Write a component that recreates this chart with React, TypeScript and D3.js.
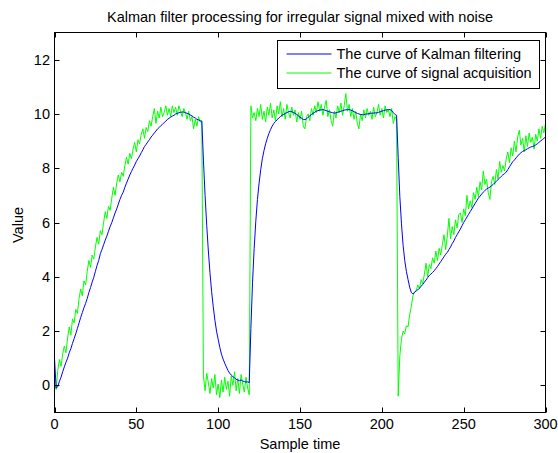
import React from "react";
import * as d3 from "d3";

// Sample index runs 0..300
const signal: number[] = [
  0.05, -0.15, 0.55, 0.95, 0.7, 1.15, 1.45, 1.2, 1.75, 2.15,
  1.85, 2.45, 2.3, 2.8, 2.65, 3.2, 3.55, 3.3, 3.85, 3.7,
  4.2, 4.6, 4.35, 4.8, 4.65, 5.1, 5.45, 5.2, 5.7, 5.55,
  6.0, 6.4, 6.15, 6.6, 6.45, 6.9, 7.3, 7.0, 7.45, 7.75,
  7.5, 7.85, 7.7, 8.1, 8.4, 8.15, 8.55, 8.35, 8.7, 8.95,
  8.6, 9.05, 8.9, 9.25, 9.45, 9.1, 9.5, 9.35, 9.75, 9.55,
  9.9, 10.2, 9.65, 10.1, 9.85, 10.25, 9.9, 10.05, 10.3, 9.95,
  10.2, 9.9, 10.3, 10.05, 10.25, 9.95, 10.3, 10.1, 9.9, 10.2,
  10.05, 9.8, 10.1, 9.75, 9.9, 9.45, 9.8, 9.55, 9.9, 9.7,
  9.75, 0.35, -0.2, 0.45, 0.1, -0.3, 0.25, -0.1, 0.4, -0.35,
  0.05, -0.45, 0.2, -0.25, 0.3, -0.15, 0.15, -0.4, 0.35, 0.0,
  0.5, -0.2, 0.25, -0.3, 0.4, 0.05, -0.25, 0.3, -0.1, -0.35,
  10.3, 9.85, 10.05, 9.75, 10.2, 9.9, 10.35, 9.8, 10.1, 9.7,
  10.25, 9.95, 10.4, 9.85, 10.15, 9.75, 10.3, 10.0, 10.45, 9.9,
  10.2, 9.8, 10.35, 10.05, 9.85, 10.25, 9.95, 10.15, 9.7, 10.05,
  9.8, 10.1, 9.55, 9.45, 9.9, 10.0, 9.75, 10.2, 9.95, 10.3,
  10.05, 10.45, 10.1, 10.35, 9.95, 10.25, 10.5, 9.9, 10.15, 9.75,
  9.55, 10.1, 9.85, 10.3, 10.05, 10.4, 9.95, 10.3, 10.75, 10.1,
  10.35, 9.9, 10.2, 9.8, 10.1, 9.65, 9.45, 10.0, 9.75, 10.15,
  9.85, 10.2, 9.95, 10.1, 9.8, 10.25, 9.9, 10.05, 10.35, 9.95,
  10.2, 9.85, 10.3, 10.05, 10.15, 9.9, 10.2, 9.65, 9.9, 9.8,
  -0.4, 1.1, 1.7, 2.0, 1.9, 2.2, 2.15, 2.6, 2.9, 3.3,
  3.45, 3.5, 3.7, 3.55, 3.9, 3.75, 4.1, 4.5, 4.0, 4.45,
  4.3, 4.7, 4.5, 4.95, 4.6, 5.05, 4.8, 5.2, 5.55, 5.0,
  5.5, 6.15, 5.4, 5.85, 5.55, 6.1, 5.8, 6.3, 6.35, 6.0,
  6.5, 6.25, 7.0, 6.5, 6.8, 6.55, 7.1, 6.85, 7.3, 6.95,
  7.5, 7.2, 7.9, 7.4, 7.6, 7.1, 6.85, 7.5, 7.7, 7.4,
  7.95, 7.6, 8.25, 7.85, 8.1, 7.9, 8.35, 8.6, 8.2, 8.75,
  8.45, 9.0, 8.6, 9.15, 9.4, 8.85, 9.1, 8.6, 9.2, 8.8,
  9.3, 8.95, 9.15, 8.7, 9.25, 9.0, 9.45, 9.1, 9.55, 9.3,
  9.65,
];

const kalman: number[] = [
  1.0, -0.1, -0.05, 0.15, 0.3, 0.5, 0.68, 0.85, 1.0, 1.2,
  1.35, 1.55, 1.72, 1.9, 2.1, 2.3, 2.5, 2.68, 2.86, 3.02,
  3.2, 3.42, 3.6, 3.8, 3.98, 4.2, 4.42, 4.6, 4.85, 5.0,
  5.18, 5.35, 5.5, 5.68, 5.85, 6.0, 6.17, 6.35, 6.5, 6.68,
  6.85, 7.0, 7.12, 7.3, 7.45, 7.6, 7.75, 7.88, 8.0, 8.12,
  8.25, 8.35, 8.45, 8.57, 8.68, 8.8, 8.88, 8.97, 9.05, 9.15,
  9.22, 9.3, 9.37, 9.45, 9.5, 9.57, 9.62, 9.68, 9.73, 9.8,
  9.84, 9.88, 9.92, 9.95, 10.0, 10.02, 10.04, 10.06, 10.07, 10.07,
  10.05, 10.02, 10.0, 9.96, 9.93, 9.88, 9.85, 9.8, 9.78, 9.75,
  9.73, 8.3, 7.0, 5.9, 4.95, 4.15, 3.45, 2.9, 2.4, 2.0,
  1.7, 1.4, 1.15, 0.97, 0.82, 0.68, 0.55, 0.45, 0.38, 0.32,
  0.28, 0.22, 0.2, 0.17, 0.2, 0.16, 0.14, 0.12, 0.13, 0.1,
  2.1, 3.8, 5.05, 6.05, 6.85, 7.45, 7.95, 8.35, 8.65, 8.9,
  9.1, 9.28, 9.42, 9.55, 9.65, 9.72, 9.78, 9.85, 9.9, 9.95,
  9.98, 10.02, 10.05, 10.08, 10.1, 10.08, 10.05, 10.02, 9.98, 9.93,
  9.88, 9.84, 9.8, 9.79, 9.82, 9.88, 9.93, 9.98, 10.02, 10.06,
  10.1, 10.12, 10.14, 10.15, 10.16, 10.14, 10.12, 10.1, 10.08, 10.06,
  10.04, 10.03, 10.04, 10.06, 10.08, 10.1, 10.12, 10.14, 10.15, 10.16,
  10.16, 10.14, 10.12, 10.08, 10.05, 10.02, 10.0, 9.98, 9.97, 9.97,
  9.99, 10.0, 10.01, 10.02, 10.03, 10.03, 10.04, 10.04, 10.06, 10.08,
  10.1, 10.12, 10.14, 10.15, 10.16, 10.16, 10.12, 10.05, 9.98, 9.95,
  8.4, 6.95, 5.95, 5.15, 4.6, 4.2, 3.9, 3.62, 3.42, 3.37,
  3.42, 3.48, 3.52, 3.58, 3.65, 3.72, 3.8, 3.88, 3.97, 4.05,
  4.1, 4.16, 4.22, 4.3, 4.38, 4.47, 4.56, 4.65, 4.74, 4.83,
  4.9, 5.0, 5.1, 5.22, 5.32, 5.45, 5.55, 5.66, 5.76, 5.88,
  6.0, 6.1, 6.2, 6.3, 6.4, 6.5, 6.6, 6.7, 6.8, 6.9,
  6.97, 7.05, 7.12, 7.18, 7.23, 7.27, 7.3, 7.35, 7.4, 7.46,
  7.52, 7.58, 7.64, 7.7, 7.76, 7.8, 7.86, 7.95, 8.05, 8.15,
  8.24, 8.3, 8.38, 8.45, 8.52, 8.57, 8.62, 8.65, 8.68, 8.72,
  8.75, 8.78, 8.8, 8.82, 8.86, 8.9, 8.95, 9.0, 9.05, 9.1,
  9.15,
];

const xTicks = [0, 50, 100, 150, 200, 250, 300];
const yTicks = [0, 2, 4, 6, 8, 10, 12];
const seriesNames = ["The curve of Kalman filtering", "The curve of signal acquisition"];
const seriesColors = ["#0000ff", "#00ff00"];
const title = "Kalman filter processing for irregular signal mixed with noise";
const xLabel = "Sample time";
const yLabel = "Value";

const W = 558;
const H = 453;
const FONT = "'Liberation Sans', Arial, Helvetica, sans-serif";
const FS = 14.5;

export default function App() {
  const x = d3.scaleLinear().domain([0, 300]).range([54.5, 545.5]);
  const y = d3.scaleLinear().domain([-1, 13]).range([412.5, 32.5]);
  const line = d3
    .line<number>()
    .x((_, i) => x(i))
    .y((d) => y(d));

  const [x0, x1] = x.range();
  const [y0, y1] = y.range();
  const tick = 5;

  const lx = 277.5, ly = 40.5, lw = 262, lh = 48;

  return (
    <svg
      width={W}
      height={H}
      style={{ position: "absolute", left: 0, top: 0, background: "#fff" }}
      fontFamily={FONT}
      fontSize={FS}
    >
      <rect x={0} y={0} width={W} height={H} fill="#fff" />
      <defs>
        <clipPath id="plotclip">
          <rect x={x0} y={y1} width={x1 - x0} height={y0 - y1} />
        </clipPath>
      </defs>
      <g clipPath="url(#plotclip)">
        <path d={line(signal) || ""} fill="none" stroke={seriesColors[1]} strokeWidth={1} />
        <path d={line(kalman) || ""} fill="none" stroke={seriesColors[0]} strokeWidth={1} />
      </g>
      {/* frame */}
      <rect x={x0} y={y1} width={x1 - x0} height={y0 - y1} fill="none" stroke="#000" strokeWidth={1} />
      {/* x ticks */}
      {xTicks.map((t) => {
        const px = Math.round(x(t)) + 0.5;
        return (
          <g key={"x" + t}>
            <line x1={px} x2={px} y1={y0} y2={y0 - tick} stroke="#000" />
            <line x1={px} x2={px} y1={y1} y2={y1 + tick} stroke="#000" />
            <text x={x(t)} y={429} textAnchor="middle" fill="#000">{t}</text>
          </g>
        );
      })}
      {/* y ticks */}
      {yTicks.map((t) => {
        const py = Math.round(y(t)) + 0.5;
        return (
          <g key={"y" + t}>
            <line x1={x0} x2={x0 + tick} y1={py} y2={py} stroke="#000" />
            <line x1={x1} x2={x1 - tick} y1={py} y2={py} stroke="#000" />
            <text x={50} y={y(t) + 5} textAnchor="end" fill="#000">{t}</text>
          </g>
        );
      })}
      {/* title & labels */}
      <text x={(x0 + x1) / 2} y={22} textAnchor="middle" fill="#000">{title}</text>
      <text x={(x0 + x1) / 2} y={449} textAnchor="middle" fill="#000">{xLabel}</text>
      <text transform={`translate(23,225) rotate(-90)`} textAnchor="middle" fill="#000">{yLabel}</text>
      {/* legend */}
      <rect x={lx} y={ly} width={lw} height={lh} fill="#fff" stroke="#000" strokeWidth={1} />
      {seriesNames.map((n, i) => {
        const yy = 54 + i * 19;
        return (
          <g key={n}>
            <line x1={286.5} x2={331.5} y1={yy} y2={yy} stroke={seriesColors[i]} strokeWidth={1.2} />
            <text x={336.5} y={yy + 5} fill="#000">{n}</text>
          </g>
        );
      })}
    </svg>
  );
}
